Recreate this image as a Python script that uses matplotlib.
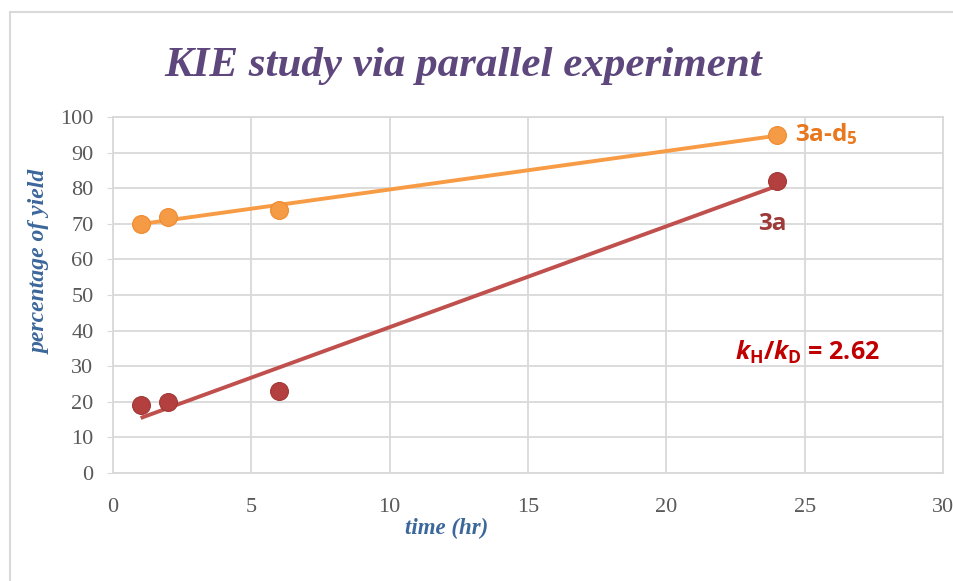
import numpy as np
import matplotlib
matplotlib.use("Agg")
import matplotlib.pyplot as plt
from matplotlib.patches import Rectangle

# ---- data ----
time_hr = [1, 2, 6, 24]
yield_3a_d5 = [70, 72, 74, 95]
yield_3a = [19, 20, 23, 82]
x_ticks = [0, 5, 10, 15, 20, 25, 30]
y_ticks = [0, 10, 20, 30, 40, 50, 60, 70, 80, 90, 100]
title = "KIE study via parallel experiment"
xlabel = "time (hr)"
ylabel = "percentage of yield"
kie_value = "2.62"

plt.rcParams['mathtext.fontset'] = 'custom'
plt.rcParams['mathtext.rm'] = 'Open Sans:bold'
plt.rcParams['mathtext.it'] = 'Open Sans:italic:bold'
plt.rcParams['mathtext.bf'] = 'Open Sans:bold'

fig = plt.figure(figsize=(9.54, 5.81), dpi=100)
fig.patch.set_facecolor('white')
# outer chart border
fig.add_artist(Rectangle((10/954, -0.1), 2.0, 1.1 - 12/581,
                         transform=fig.transFigure, fill=False,
                         edgecolor='#D9D9D9', lw=1.5))

ax = fig.add_axes([113/954, 108/581, 830/954, 356/581])
ax.set_xlim(0, 30)
ax.set_ylim(0, 100)
ax.set_xticks(x_ticks)
ax.set_yticks(y_ticks)
ax.grid(True, color='#D9D9D9', lw=1.3)
ax.set_axisbelow(True)
for s in ax.spines.values():
    s.set_color('#D9D9D9')
    s.set_linewidth(1.3)
ax.tick_params(axis='y', length=4, color='#D9D9D9', labelsize=16,
               labelcolor='#595959', pad=10)
ax.tick_params(axis='x', length=0, labelsize=16, labelcolor='#595959', pad=18)
for lab in ax.get_xticklabels() + ax.get_yticklabels():
    lab.set_family('Liberation Serif')

orange_line = '#F79B45'
orange_marker = '#F59A45'
red_line = '#C0504D'
red_marker = '#B3403E'

# trend lines (linear fits)
for ys, col in [(yield_3a_d5, orange_line), (yield_3a, red_line)]:
    m, b = np.polyfit(time_hr, ys, 1)
    xs = np.array([min(time_hr), max(time_hr)])
    ax.plot(xs, m * xs + b, color=col, lw=2.8, zorder=3, solid_capstyle='butt')

ax.scatter(time_hr, yield_3a_d5, s=165, color=orange_marker, zorder=4,
           edgecolors='#F08A2E', linewidths=0.8)
ax.scatter(time_hr, yield_3a, s=165, color=red_marker, zorder=4,
           edgecolors='#A23634', linewidths=0.8)

ax.text(24.65, 95.3, r"3a-d$_{5}$", color='#E8771E', fontsize=17.5,
        fontfamily='Open Sans', fontweight='bold', va='center', ha='left')
ax.text(23.85, 70, "3a", color='#9E3A38', fontsize=17.5,
        fontfamily='Open Sans', fontweight='bold', va='center', ha='center')
ax.text(22.5, 34, r"$k_{\mathrm{H}}/k_{\mathrm{D}}$ = " + kie_value, color='#C00000',
        fontsize=18, fontfamily='Open Sans', fontweight='bold',
        va='center', ha='left')

ax.set_xlabel(xlabel, fontfamily='Liberation Serif', fontstyle='italic',
              fontweight='bold', fontsize=16.5, color='#3C679B')
ax.set_ylabel(ylabel, fontfamily='Liberation Serif', fontstyle='italic',
              fontweight='bold', fontsize=17, color='#3C679B')
ax.xaxis.set_label_coords((447 - 113) / 830, -(528 - 473) / 356)
ax.xaxis.label.set_va('center')
ax.yaxis.set_label_coords((40 - 113) / 830, (473 - 262) / 356)
ax.yaxis.label.set_va('center')

fig.text(463/954, 1 - 66/581, title, fontfamily='Liberation Serif',
         fontstyle='italic', fontweight='bold', fontsize=31,
         color='#5D477C', ha='center', va='center')

fig.savefig('out.png', dpi=100)
